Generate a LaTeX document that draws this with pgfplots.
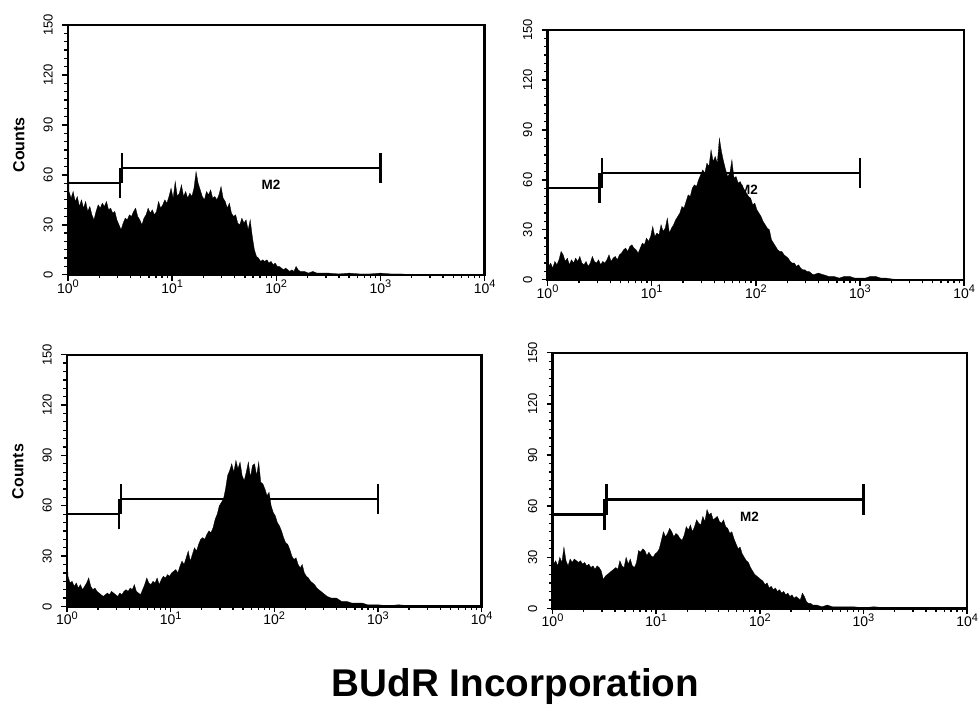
\documentclass[border=0pt]{standalone}
\usepackage{fontspec}
\setmainfont{Liberation Sans}
\usepackage{pgfplots}
\pgfplotsset{compat=1.18}

\newcommand{\dec}[1]{10\raisebox{5.5pt}{\fontsize{11}{11}\selectfont #1}}
\newcommand{\up}[1]{\rotatebox{90}{#1}}

\pgfplotsset{
  fcs/.style={
    scale only axis, axis on top,
    xmin=0, xmax=4, ymin=0, ymax=150,
    axis line style={line width=2.2pt},
    tick align=outside, xtick pos=bottom, ytick pos=left,
    xtick={0,1,2,3,4},
    xticklabels={\dec{0},\dec{1},\dec{2},\dec{3},\dec{4}},
    minor xtick={0.301,0.477,0.602,0.699,0.778,0.845,0.903,0.954,
                 1.301,1.477,1.602,1.699,1.778,1.845,1.903,1.954,
                 2.301,2.477,2.602,2.699,2.778,2.845,2.903,2.954,
                 3.301,3.477,3.602,3.699,3.778,3.845,3.903,3.954},
    ytick={0,30,60,90,120,150},
    yticklabels={\up{0},\up{30},\up{60},\up{90},\up{120},\up{150}},
    minor y tick num=5,
    major tick length=6pt, minor tick length=3.5pt,
    every tick/.append style={black, line width=1.4pt},
    every minor tick/.append style={black, line width=1.3pt},
    yticklabel style={anchor=east, inner sep=2pt, xshift=-7pt, font=\fontsize{13}{13}\selectfont},
    xticklabel style={anchor=north, inner sep=1pt, yshift=2pt, font=\fontsize{14}{14}\selectfont},
  },
  hist/.style={fill=black, draw=black, line width=0.3pt},
  gate/.style={black, line width=2.4pt},
}

% gates M1 and M2, with the M2 label at x = #1
\newcommand{\markers}[1]{%
  \addplot[gate] coordinates {(0,55)(0.50,55)};
  \addplot[gate] coordinates {(0.50,46)(0.50,64)};
  \addplot[gate] coordinates {(0.52,64)(3.0,64)};
  \addplot[gate] coordinates {(0.52,55)(0.52,73)};
  \addplot[gate] coordinates {(3.0,55)(3.0,73)};
  \node[font=\fontsize{13.5}{14}\selectfont\bfseries] at (axis cs:#1,54) {M2};
}

\begin{document}
\begin{tikzpicture}

% top left
\begin{axis}[fcs, at={(68pt,435pt)}, anchor=south west, width=417pt, height=250pt]
\markers{1.95}
\addplot[hist] coordinates {
(0.00,102)(0.01,50)(0.03,46)(0.05,50)(0.07,44)(0.09,47)(0.11,41)(0.13,45)(0.15,40)(0.17,44)
(0.19,38)(0.21,41)(0.23,36)(0.25,33)(0.27,38)(0.29,42)(0.31,40)(0.33,43)(0.35,41)(0.37,44)
(0.39,39)(0.41,40)(0.43,37)(0.45,38)(0.47,33)(0.49,30)(0.51,27)(0.53,31)(0.55,34)(0.57,33)
(0.59,36)(0.61,35)(0.63,38)(0.65,40)(0.67,35)(0.69,33)(0.71,30)(0.73,34)(0.75,36)(0.77,40)
(0.79,37)(0.81,39)(0.83,36)(0.85,38)(0.87,44)(0.89,40)(0.91,42)(0.93,45)(0.95,43)(0.97,47)
(0.99,52)(1.01,46)(1.03,56)(1.05,47)(1.07,49)(1.09,54)(1.11,47)(1.13,50)(1.15,46)(1.17,49)
(1.19,47)(1.21,52)(1.23,62)(1.25,55)(1.27,51)(1.29,47)(1.31,45)(1.33,50)(1.35,48)(1.37,51)
(1.39,46)(1.41,47)(1.43,45)(1.45,48)(1.47,53)(1.49,46)(1.51,44)(1.53,40)(1.55,43)(1.57,37)
(1.59,35)(1.61,36)(1.63,31)(1.65,30)(1.67,34)(1.69,31)(1.71,33)(1.73,27)(1.75,33)(1.77,23)
(1.79,15)(1.81,11)(1.83,10)(1.85,8)(1.87,9)(1.89,8)(1.91,9)(1.93,7)(1.95,8)(1.97,6)
(1.99,7)(2.01,5)(2.03,5)(2.05,4)(2.07,3)(2.09,4)(2.11,3)(2.13,2)(2.15,3)(2.17,2)
(2.19,5)(2.21,3)(2.23,2)(2.27,2)(2.31,1)(2.35,2)(2.39,1)(2.45,1)(2.5,1)(2.6,0.5)
(2.7,1)(2.8,0.5)(2.9,0.5)(3.0,1)(3.1,0.5)(3.2,0.5)(3.3,0)(4.0,0)
} \closedcycle;
\end{axis}

% top right
\begin{axis}[fcs, at={(548pt,430pt)}, anchor=south west, width=417pt, height=250pt]
\markers{1.93}
\addplot[hist] coordinates {
(0.00,26)(0.01,8)(0.03,10)(0.05,7)(0.07,11)(0.09,9)(0.11,12)(0.13,17)(0.15,15)(0.17,11)
(0.19,13)(0.21,9)(0.23,12)(0.25,10)(0.27,13)(0.29,11)(0.31,14)(0.33,10)(0.35,9)(0.37,11)
(0.39,8)(0.41,10)(0.43,14)(0.45,11)(0.47,10)(0.49,12)(0.51,9)(0.53,11)(0.55,10)(0.57,12)
(0.59,15)(0.61,11)(0.63,13)(0.65,14)(0.67,12)(0.69,15)(0.71,16)(0.73,18)(0.75,19)(0.77,17)
(0.79,20)(0.81,21)(0.83,19)(0.85,18)(0.87,16)(0.89,19)(0.91,22)(0.93,21)(0.95,25)(0.97,23)
(0.99,26)(1.01,32)(1.03,26)(1.05,28)(1.07,27)(1.09,33)(1.11,29)(1.13,31)(1.15,37)(1.17,28)
(1.19,31)(1.21,33)(1.23,36)(1.25,38)(1.27,40)(1.29,44)(1.31,43)(1.33,47)(1.35,51)(1.37,50)
(1.39,55)(1.41,57)(1.43,56)(1.45,60)(1.47,63)(1.49,66)(1.51,64)(1.53,70)(1.55,68)(1.57,78)
(1.59,71)(1.61,74)(1.63,70)(1.65,85)(1.67,77)(1.69,71)(1.71,66)(1.73,62)(1.75,64)(1.77,72)
(1.79,61)(1.81,62)(1.83,58)(1.85,59)(1.87,56)(1.89,54)(1.91,52)(1.93,50)(1.95,49)(1.97,45)
(1.99,46)(2.01,42)(2.03,40)(2.05,38)(2.07,35)(2.09,33)(2.11,31)(2.13,30)(2.15,24)(2.17,22)
(2.19,20)(2.21,18)(2.23,17)(2.25,17)(2.27,15)(2.29,14)(2.31,13)(2.33,11)(2.35,10)(2.37,10)
(2.39,8)(2.41,9)(2.43,7)(2.45,6)(2.47,6)(2.49,5)(2.51,5)(2.55,3)(2.6,4)(2.65,3)
(2.7,2)(2.75,2)(2.8,1)(2.85,2)(2.9,2)(2.95,1)(3.0,1)(3.05,1)(3.1,2)(3.15,2)
(3.2,1)(3.25,1)(3.3,0.5)(3.4,0)(4.0,0)
} \closedcycle;
\end{axis}

% bottom left
\begin{axis}[fcs, at={(67pt,103pt)}, anchor=south west, width=415pt, height=252pt]
\markers{1.74}
\addplot[hist] coordinates {
(0.00,38)(0.01,18)(0.03,14)(0.05,15)(0.07,12)(0.09,14)(0.11,11)(0.13,13)(0.15,10)(0.17,12)
(0.19,14)(0.21,17)(0.23,12)(0.25,10)(0.27,11)(0.29,9)(0.31,8)(0.33,7)(0.35,6)(0.37,7)
(0.39,8)(0.41,7)(0.43,9)(0.45,8)(0.47,7)(0.49,6)(0.51,8)(0.53,7)(0.55,9)(0.57,10)
(0.59,9)(0.61,11)(0.63,10)(0.65,13)(0.67,9)(0.69,8)(0.71,7)(0.73,10)(0.75,13)(0.77,17)
(0.79,14)(0.81,13)(0.83,15)(0.85,14)(0.87,17)(0.89,13)(0.91,16)(0.93,18)(0.95,17)(0.97,19)
(0.99,18)(1.01,20)(1.03,21)(1.05,22)(1.07,20)(1.09,24)(1.11,27)(1.13,25)(1.15,29)(1.17,33)
(1.19,27)(1.21,31)(1.23,35)(1.25,33)(1.27,37)(1.29,40)(1.31,41)(1.33,40)(1.35,43)(1.37,45)
(1.39,44)(1.41,47)(1.43,52)(1.45,55)(1.47,60)(1.49,62)(1.51,64)(1.53,70)(1.55,78)(1.57,81)
(1.59,85)(1.61,80)(1.63,87)(1.65,82)(1.67,86)(1.69,78)(1.71,75)(1.73,80)(1.75,86)(1.77,77)
(1.79,84)(1.81,85)(1.83,78)(1.85,86)(1.87,74)(1.89,73)(1.91,70)(1.93,66)(1.95,68)(1.97,60)
(1.99,56)(2.01,54)(2.03,50)(2.05,48)(2.07,45)(2.09,41)(2.11,38)(2.13,37)(2.15,34)(2.17,30)
(2.19,28)(2.21,29)(2.23,25)(2.25,23)(2.27,25)(2.29,20)(2.31,18)(2.33,17)(2.35,15)(2.37,14)
(2.39,13)(2.41,11)(2.43,10)(2.45,9)(2.47,8)(2.49,7)(2.51,6)(2.55,5)(2.6,5)(2.65,3)
(2.7,3)(2.75,2)(2.8,2)(2.85,2)(2.9,1)(3.0,1)(3.1,0.5)(3.2,1)(3.3,0.5)(3.4,0.5)(4.0,0)
} \closedcycle;
\end{axis}

% bottom right
\begin{axis}[fcs, at={(553pt,101pt)}, anchor=south west, width=415pt, height=256pt]
\markers{1.90}
\addplot[hist] coordinates {
(0.00,68)(0.01,26)(0.03,28)(0.05,25)(0.07,30)(0.09,27)(0.11,36)(0.13,28)(0.15,25)(0.17,29)
(0.19,27)(0.21,29)(0.23,28)(0.25,27)(0.27,28)(0.29,26)(0.31,27)(0.33,25)(0.35,26)(0.37,24)
(0.39,25)(0.41,23)(0.43,25)(0.45,24)(0.47,22)(0.49,17)(0.51,19)(0.53,20)(0.55,21)(0.57,22)
(0.59,23)(0.61,24)(0.63,23)(0.65,28)(0.67,25)(0.69,24)(0.71,30)(0.73,26)(0.75,29)(0.77,25)
(0.79,24)(0.81,27)(0.83,34)(0.85,33)(0.87,35)(0.89,34)(0.91,31)(0.93,33)(0.95,31)(0.97,30)
(0.99,32)(1.01,33)(1.03,35)(1.05,40)(1.07,45)(1.09,42)(1.11,44)(1.13,47)(1.15,45)(1.17,42)
(1.19,44)(1.21,43)(1.23,41)(1.25,40)(1.27,43)(1.29,48)(1.31,46)(1.33,49)(1.35,45)(1.37,48)
(1.39,52)(1.41,50)(1.43,49)(1.45,54)(1.47,51)(1.49,58)(1.51,55)(1.53,56)(1.55,52)(1.57,53)
(1.59,54)(1.61,51)(1.63,50)(1.65,52)(1.67,48)(1.69,47)(1.71,44)(1.73,45)(1.75,41)(1.77,38)
(1.79,35)(1.81,36)(1.83,32)(1.85,30)(1.87,28)(1.89,27)(1.91,24)(1.93,22)(1.95,20)(1.97,19)
(1.99,18)(2.01,17)(2.03,16)(2.05,14)(2.07,15)(2.09,12)(2.11,13)(2.13,11)(2.15,12)(2.17,10)
(2.19,11)(2.21,9)(2.23,10)(2.25,8)(2.27,9)(2.29,7)(2.31,8)(2.33,6)(2.35,7)(2.37,6)
(2.39,5)(2.41,9)(2.43,7)(2.45,4)(2.47,3)(2.49,3)(2.51,2)(2.55,2)(2.6,1)(2.65,2)
(2.7,1)(2.8,1)(2.9,1)(3.0,0.5)(3.1,1)(3.2,0.5)(3.3,0.5)(4.0,0)
} \closedcycle;
\end{axis}

\node[rotate=90, font=\fontsize{16}{16}\selectfont\bfseries] at (19pt,565pt) {Counts};
\node[rotate=90, font=\fontsize{16}{16}\selectfont\bfseries] at (18pt,238pt) {Counts};
\node[anchor=base, font=\fontsize{38.7}{40}\selectfont\bfseries] at (516pt,13pt) {BUdR Incorporation};
\path (0pt,0pt) rectangle (979pt,710pt);
\end{tikzpicture}
\end{document}
